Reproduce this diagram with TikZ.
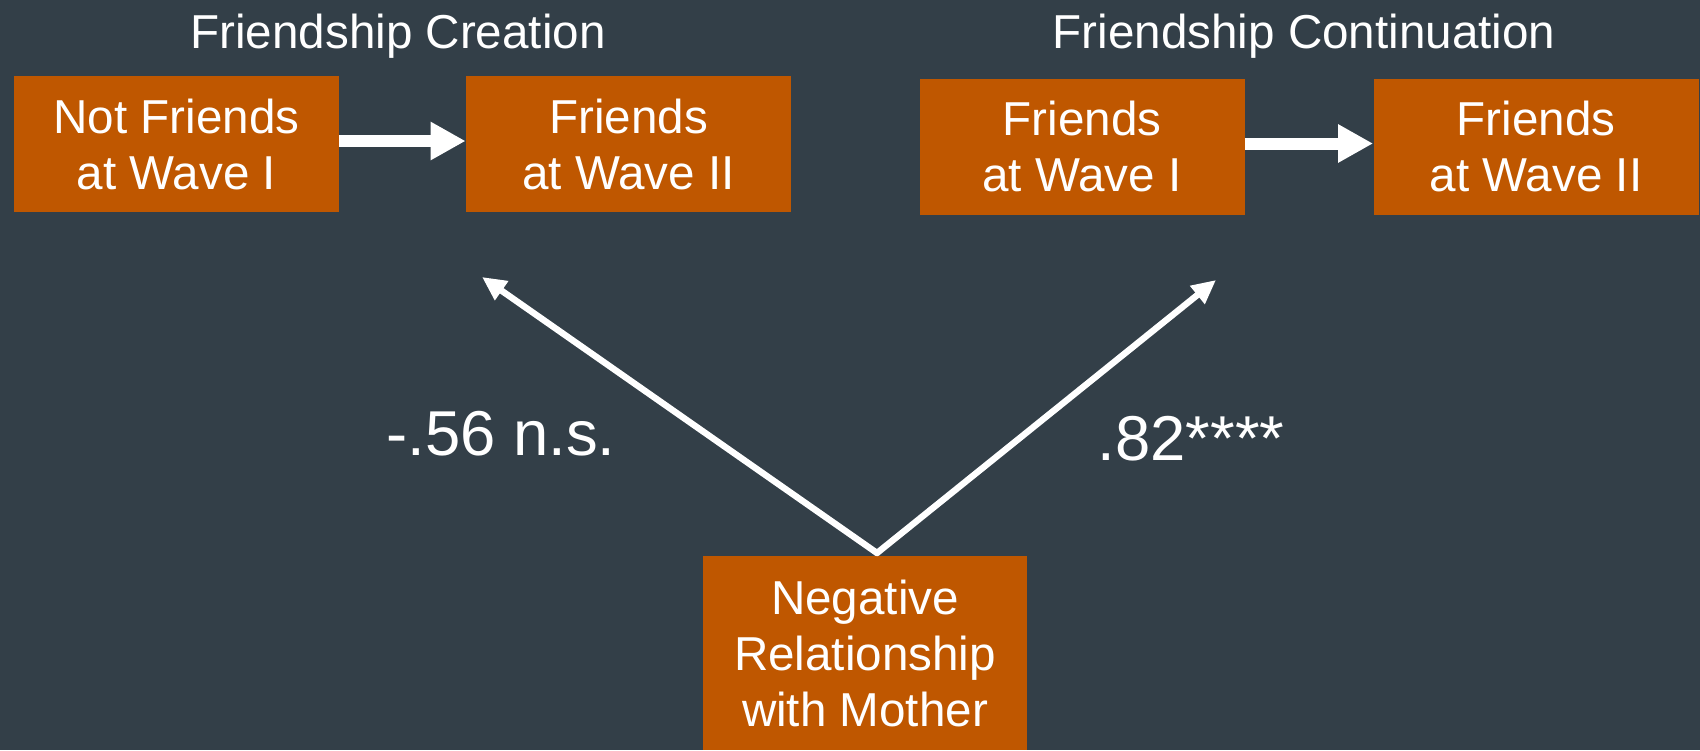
\documentclass[tikz,border=0pt]{standalone}
\usepackage{fontspec}
\setmainfont{Liberation Sans}
\usetikzlibrary{arrows.meta}
\definecolor{bg}{HTML}{333F48}
\definecolor{burnt}{HTML}{BF5700}
\begin{document}
\begin{tikzpicture}[x=0.5pt,y=-0.5pt,
  box/.style={fill=burnt, text=white, minimum width=162.5pt, minimum height=68pt,
    align=center, inner sep=0pt, font=\fontsize{23.8}{28}\selectfont},
  title/.style={text=white, inner sep=0pt, font=\fontsize{23.8}{28}\selectfont},
  coef/.style={text=white, inner sep=0pt, font=\fontsize{31.7}{36}\selectfont},
  fatarrow/.style={draw=white, line width=6pt, -{Triangle[length=17.5pt,width=18pt]}},
  thinarrow/.style={draw=white, line width=3.2pt, line cap=round, -{Triangle[length=12pt,width=11pt]}}]
\fill[bg] (0,0) rectangle (1700,750);
\useasboundingbox (0,0) rectangle (1700,750);
\node[title] (t1) at (398,36) {Friendship Creation};
\node[title] (t2) at (1304,36) {Friendship Continuation};
\node[box] (b1) at (176.5,144) {Not Friends\\at Wave I};
\node[box] (b2) at (628.5,144) {Friends\\at Wave II};
\node[box] (b3) at (1082,146.5) {Friends\\at Wave I};
\node[box] (b4) at (1536,146.5) {Friends\\at Wave II};
\node[box, minimum width=162pt, minimum height=97pt] (b5) at (865,653) {Negative\\Relationship\\with Mother};
\draw[fatarrow] ([yshift=1.5pt]b1.east) -- ([yshift=1.5pt]b2.west);
\draw[fatarrow] ([yshift=1.5pt]b3.east) -- ([yshift=1.5pt]b4.west);
\coordinate (apex) at (877,553);
\coordinate (tipL) at (482,277);
\coordinate (tipR) at (1216,280);
\draw[thinarrow] (apex) -- (tipL);
\draw[thinarrow] (apex) -- (tipR);
\node[coef] (c1) at (501,434) {-.56 n.s.};
\node[coef] (c2) at (1191,439) {.82****};
\end{tikzpicture}
\end{document}
